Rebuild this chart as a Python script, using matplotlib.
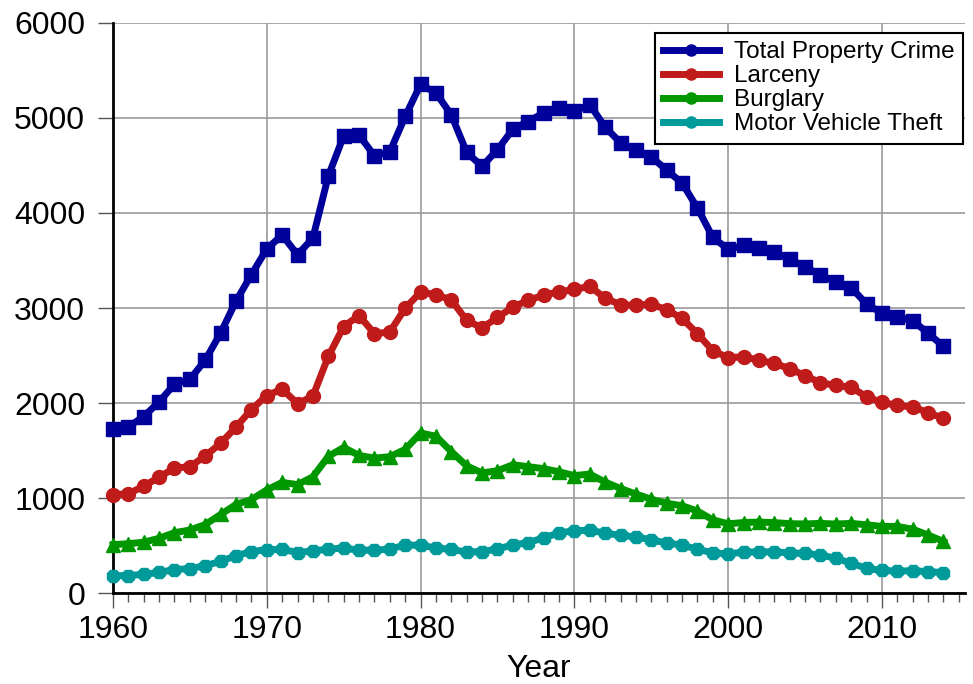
import matplotlib
matplotlib.use("Agg")
import matplotlib.pyplot as plt
from matplotlib.lines import Line2D
from matplotlib.ticker import MultipleLocator

# ── Data: US property crime rates per 100,000 ────────────────────────────────
years = list(range(1960, 2015))

total = [1726, 1748, 1858, 2012, 2198, 2249, 2451, 2737, 3072, 3351,
         3621, 3769, 3560, 3737, 4389, 4811, 4820, 4602, 4643, 5017,
         5353, 5264, 5033, 4637, 4492, 4666, 4882, 4963, 5054, 5107,
         5073, 5140, 4904, 4740, 4660, 4591, 4451, 4316, 4053, 3744,
         3618, 3658, 3631, 3591, 3514, 3432, 3347, 3276, 3215, 3041,
         2946, 2905, 2868, 2734, 2596]

larceny = [1035, 1045, 1125, 1219, 1316, 1329, 1443, 1576, 1747, 1931,
           2079, 2146, 1994, 2072, 2490, 2805, 2921, 2730, 2747, 2999,
           3167, 3140, 3085, 2869, 2791, 2901, 3010, 3081, 3135, 3171,
           3195, 3229, 3104, 3034, 3027, 3043, 2980, 2892, 2730, 2551,
           2477, 2486, 2451, 2417, 2362, 2288, 2213, 2185, 2166, 2065,
           2006, 1974, 1959, 1899, 1837]

burglary = [509, 519, 535, 576, 635, 663, 721, 827, 932, 984,
            1085, 1164, 1141, 1223, 1438, 1532, 1448, 1420, 1435, 1512,
            1684, 1650, 1489, 1338, 1264, 1287, 1350, 1330, 1309, 1276,
            1236, 1252, 1168, 1100, 1042, 987, 945, 919, 863, 770,
            729, 742, 747, 741, 730, 727, 733, 726, 733, 718,
            701, 701, 672, 610, 543]

mvt = [183, 184, 197, 217, 247, 257, 287, 334, 393, 436,
       457, 460, 426, 443, 462, 474, 450, 452, 461, 506,
       502, 475, 459, 431, 437, 462, 508, 529, 583, 630,
       658, 659, 632, 606, 591, 560, 526, 506, 460, 423,
       412, 431, 433, 434, 422, 417, 400, 365, 315, 259,
       239, 230, 236, 224, 216]

SERIES = [
    ("Total Property Crime", total,    "#00009a", "s"),
    ("Larceny",              larceny,  "#c01b1b", "o"),
    ("Burglary",             burglary, "#009700", "^"),
    ("Motor Vehicle Theft",  mvt,      "#009a9a", "8"),
]

plt.rcParams["font.family"] = ["Liberation Sans", "DejaVu Sans"]

fig = plt.figure(figsize=(9.73, 6.84), dpi=100)
ax = fig.add_axes([0.1161, 0.1330, 0.8757, 0.8334])

for label, vals, color, marker in SERIES:
    ax.plot(years, vals, color=color, lw=5, marker=marker, ms=10,
            mec=color, mfc=color, clip_on=False, zorder=3)

ax.set_xlim(1960, 2015.4)
ax.set_ylim(0, 6000)
ax.xaxis.set_major_locator(MultipleLocator(10))
ax.xaxis.set_minor_locator(MultipleLocator(1))
ax.yaxis.set_major_locator(MultipleLocator(1000))

ax.grid(True, which="major", color="#9a9a9a", lw=1.2)
ax.set_axisbelow(True)

for side in ("top", "right"):
    ax.spines[side].set_visible(False)
for side in ("left", "bottom"):
    ax.spines[side].set_linewidth(2)
    ax.spines[side].set_color("black")

ax.tick_params(axis="both", which="major", direction="out", length=11,
               width=1, labelsize=23, color="#555555")
ax.tick_params(axis="x", which="minor", direction="out", length=6.5,
               width=1, color="#555555")
ax.tick_params(axis="y", which="major", pad=9)
ax.tick_params(axis="x", which="major", pad=5)
ax.set_xlabel("Year", fontsize=23, labelpad=6)

handles = [Line2D([0], [0], color=c, lw=5, marker="o", ms=8)
           for _, _, c, _ in SERIES]
leg = ax.legend(handles, [s[0] for s in SERIES], loc="upper right",
                bbox_to_anchor=(0.9975, 0.983), fontsize=17.5, frameon=True,
                fancybox=False, edgecolor="black", framealpha=1,
                borderpad=0.35, labelspacing=0.08, handlelength=2.3,
                handletextpad=0.6, borderaxespad=0)
leg.get_frame().set_linewidth(1.5)

fig.savefig("out.png", dpi=100)
